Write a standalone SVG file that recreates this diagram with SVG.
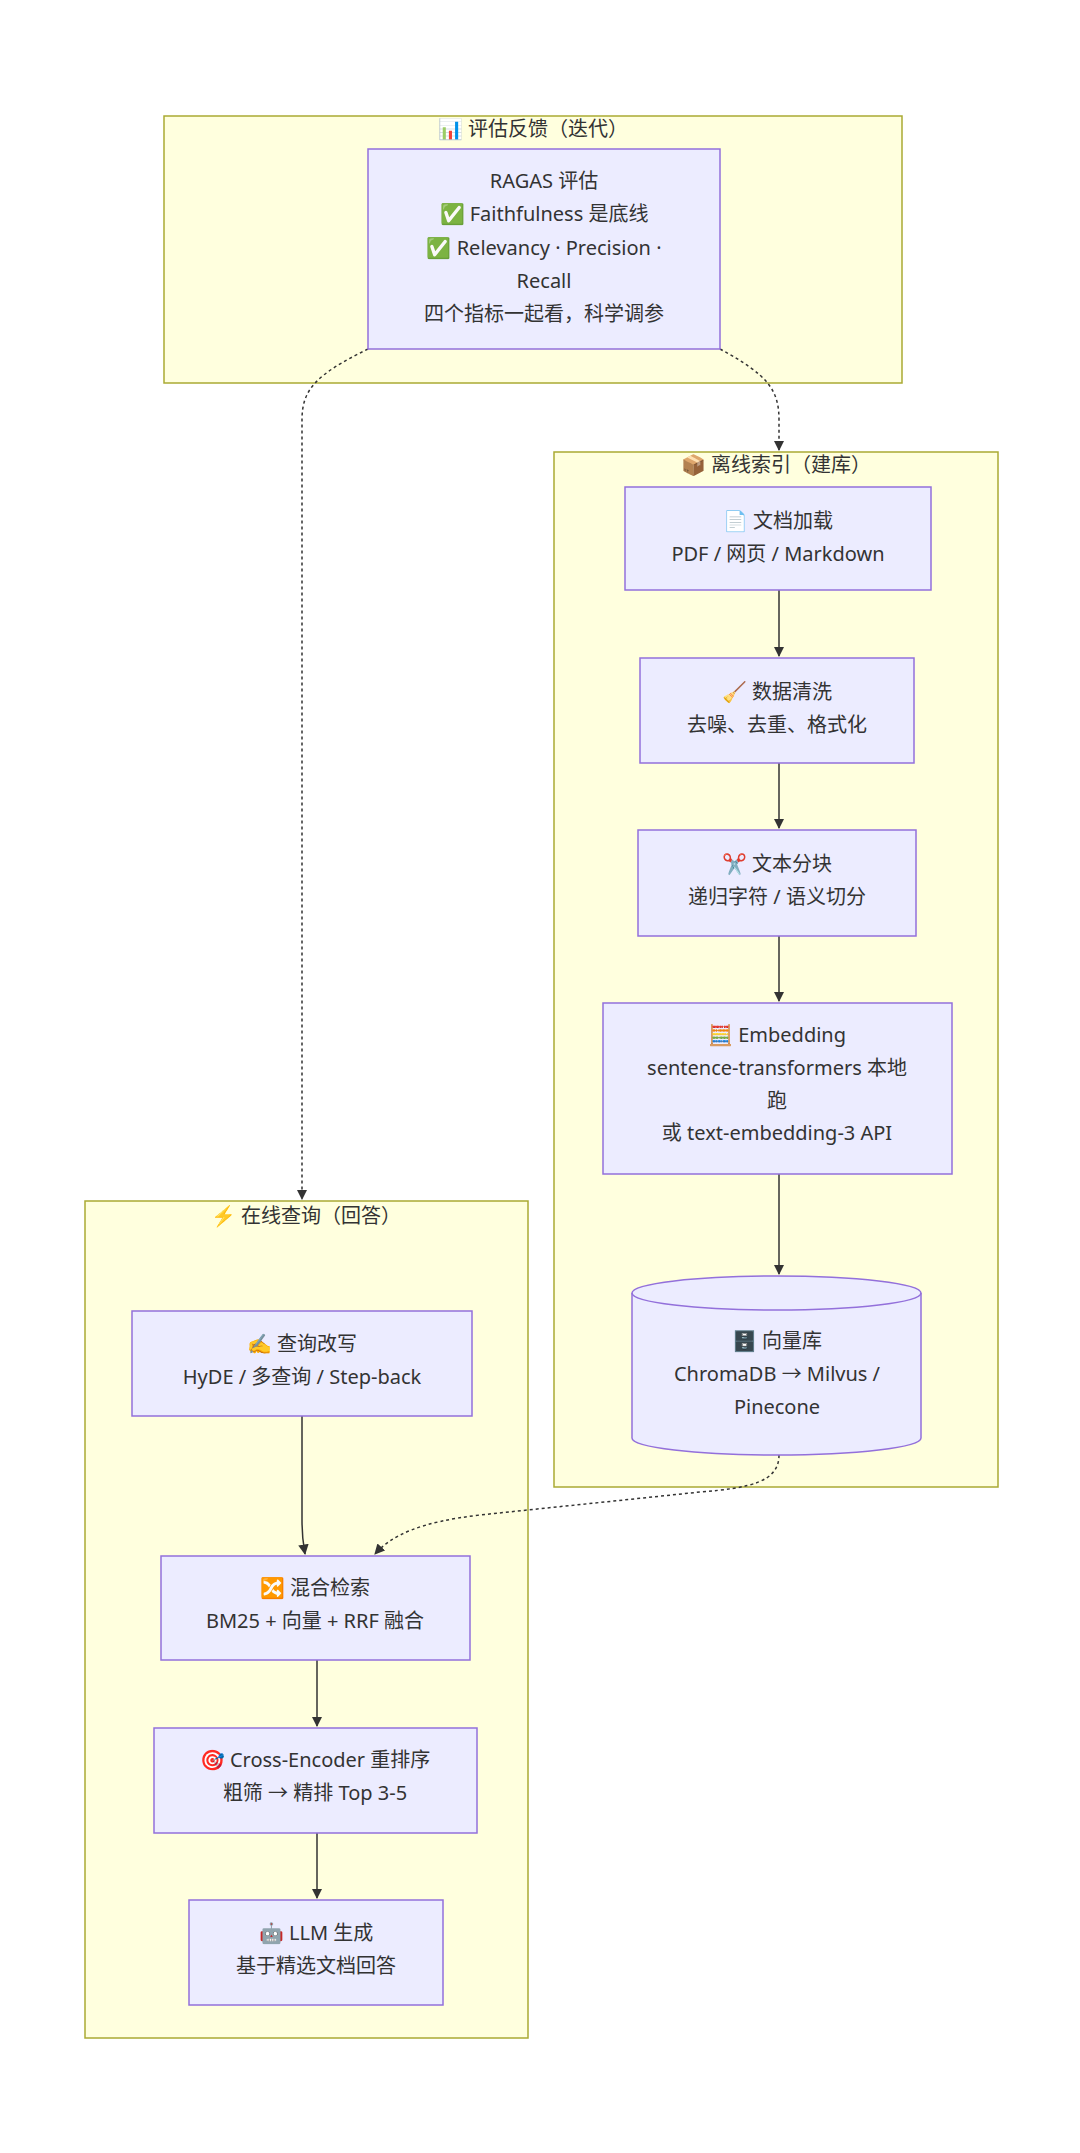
<svg xmlns="http://www.w3.org/2000/svg" width="1080" height="2153" viewBox="0 0 1080 2153">
<defs>
<marker id="ah" viewBox="0 0 10 10" refX="9" refY="5" markerWidth="7" markerHeight="7" orient="auto-start-reverse"><path d="M0,0 L10,5 L0,10 z" fill="#333"/></marker>
<style>
.cl{fill:#ffffde;stroke:#aaaa33;stroke-width:1.5}
.nd{fill:#ECECFF;stroke:#9370DB;stroke-width:1.5}
text{font-family:"Noto Sans","Noto Sans CJK SC",sans-serif;font-size:20px;fill:#333;text-anchor:middle;dominant-baseline:middle}
.e{fill:none;stroke:#333;stroke-width:1.5;marker-end:url(#ah)}
.d{stroke-dasharray:3,3}
</style>
</defs>
<rect width="1080" height="2153" fill="#fff"/>
<g id="cluster-eval"><rect class="cl" x="164" y="116" width="738" height="267"/><text x="533" y="131">📊 评估反馈（迭代）</text></g>
<g id="cluster-offline"><rect class="cl" x="554" y="452" width="444" height="1035"/><text x="776" y="467">📦 离线索引（建库）</text></g>
<g id="cluster-online"><rect class="cl" x="85" y="1201" width="443" height="837"/><text x="306" y="1218">⚡ 在线查询（回答）</text></g>
<g id="connectors">
<path class="e d" d="M368,349 C315,375 302,390 302,420 L302,1199"/>
<path class="e d" d="M720,349 C768,375 779,390 779,420 L779,450"/>
<path class="e" d="M779,590 L779,656"/>
<path class="e" d="M779,763 L779,828"/>
<path class="e" d="M779,936 L779,1001"/>
<path class="e" d="M779,1174 L779,1274"/>
<path class="e" d="M302,1416 L302,1520 C302,1540 304,1548 305,1554"/>
<path class="e d" d="M779,1455 C779,1482 750,1488 700,1492 L480,1515 C420,1522 392,1535 375,1554"/>
<path class="e" d="M317,1660 L317,1726"/>
<path class="e" d="M317,1833 L317,1898"/>
</g>
<g id="eval"><rect class="nd" x="368" y="149" width="352" height="200"/>
<text x="544" y="183">RAGAS 评估</text><text x="544" y="216">✅ Faithfulness 是底线</text><text x="544" y="250">✅ Relevancy · Precision ·</text><text x="544" y="283">Recall</text><text x="544" y="316">四个指标一起看，科学调参</text></g>
<g id="load"><rect class="nd" x="625" y="487" width="306" height="103"/><text x="778" y="523">📄 文档加载</text><text x="778" y="556">PDF / 网页 / Markdown</text></g>
<g id="clean"><rect class="nd" x="640" y="658" width="274" height="105"/><text x="777" y="694">🧹 数据清洗</text><text x="777" y="727">去噪、去重、格式化</text></g>
<g id="chunk"><rect class="nd" x="638" y="830" width="278" height="106"/><text x="777" y="866">✂️ 文本分块</text><text x="777" y="899">递归字符 / 语义切分</text></g>
<g id="embed"><rect class="nd" x="603" y="1003" width="349" height="171"/><text x="777" y="1037">🧮 Embedding</text><text x="777" y="1070">sentence-transformers 本地</text><text x="777" y="1103">跑</text><text x="777" y="1135">或 text-embedding-3 API</text></g>
<g id="vdb"><path class="nd" d="M632,1293 A144.5,17 0 0 1 921,1293 L921,1438 A144.5,17 0 0 1 632,1438 Z"/><path d="M632,1293 A144.5,17 0 0 0 921,1293" fill="none" stroke="#9370DB" stroke-width="1.5"/>
<text x="777" y="1343">🗄️ 向量库</text><text x="777" y="1376">ChromaDB → Milvus /</text><text x="777" y="1409">Pinecone</text></g>
<g id="rewrite"><rect class="nd" x="132" y="1311" width="340" height="105"/><text x="302" y="1346">✍️ 查询改写</text><text x="302" y="1379">HyDE / 多查询 / Step-back</text></g>
<g id="hybrid"><rect class="nd" x="161" y="1556" width="309" height="104"/><text x="315" y="1590">🔀 混合检索</text><text x="315" y="1623">BM25 + 向量 + RRF 融合</text></g>
<g id="rerank"><rect class="nd" x="154" y="1728" width="323" height="105"/><text x="315" y="1762">🎯 Cross-Encoder 重排序</text><text x="315" y="1795">粗筛 → 精排 Top 3-5</text></g>
<g id="llm"><rect class="nd" x="189" y="1900" width="254" height="105"/><text x="316" y="1935">🤖 LLM 生成</text><text x="316" y="1968">基于精选文档回答</text></g>
</svg>
